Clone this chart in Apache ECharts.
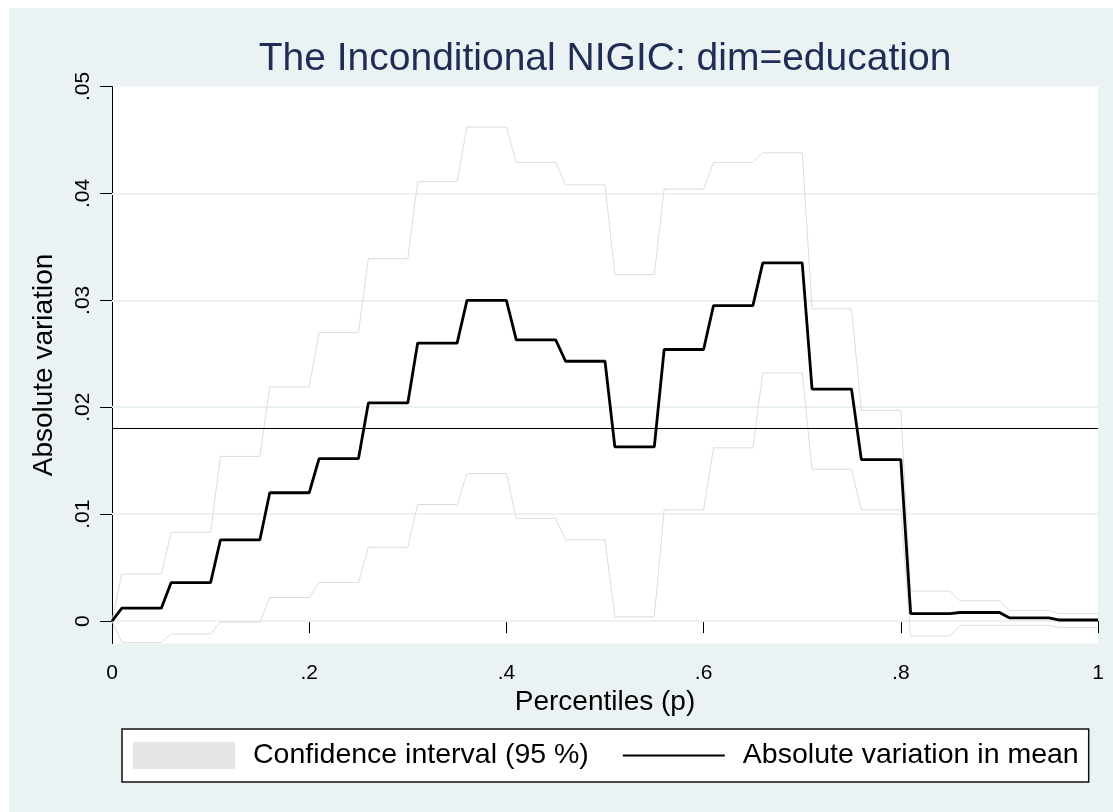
<!DOCTYPE html>
<html>
<head>
<meta charset="utf-8">
<title>The Inconditional NIGIC: dim=education</title>
<script src="https://cdn.jsdelivr.net/npm/echarts@6.0.0/dist/echarts.min.js"></script>
<style>
  html, body { margin: 0; padding: 0; background: #fff; }
  #chart { width: 1113px; height: 812px; }
</style>
</head>
<body>
<div id="chart"></div>
<script>
// percentiles where the step function changes
const pct = [0, 0.01, 0.05, 0.06, 0.10, 0.11, 0.15, 0.16, 0.20, 0.21, 0.25, 0.26, 0.30, 0.31, 0.35,
  0.36, 0.40, 0.41, 0.45, 0.46, 0.50, 0.51, 0.55, 0.56, 0.60, 0.61, 0.65, 0.66, 0.70, 0.71, 0.75,
  0.76, 0.80, 0.81, 0.85, 0.86, 0.90, 0.91, 0.95, 0.96, 1.00]

const meanVar = [0, 0.0012, 0.0012, 0.0036, 0.0036, 0.0076, 0.0076, 0.0120, 0.0120, 0.0152, 0.0152,
  0.0204, 0.0204, 0.0260, 0.0260, 0.0300, 0.0300, 0.0263, 0.0263, 0.0243, 0.0243, 0.0163, 0.0163,
  0.0254, 0.0254, 0.0295, 0.0295, 0.0335, 0.0335, 0.0217, 0.0217, 0.0151, 0.0151, 0.0007, 0.0007,
  0.0008, 0.0008, 0.0003, 0.0003, 0.0001, 0.0001]

const ciUpper = [0, 0.0044, 0.0044, 0.0083, 0.0083, 0.0154, 0.0154, 0.0219, 0.0219, 0.0270, 0.0270,
  0.0339, 0.0339, 0.0411, 0.0411, 0.0462, 0.0462, 0.0429, 0.0429, 0.0408, 0.0408, 0.0324, 0.0324,
  0.0404, 0.0404, 0.0429, 0.0429, 0.0438, 0.0438, 0.0292, 0.0292, 0.0197, 0.0197, 0.0028, 0.0028,
  0.0019, 0.0019, 0.0010, 0.0010, 0.0007, 0.0007]

const ciLower = [0, -0.0020, -0.0020, -0.0012, -0.0012, -0.0001, -0.0001, 0.0022, 0.0022, 0.0036, 0.0036,
  0.0069, 0.0069, 0.0109, 0.0109, 0.0138, 0.0138, 0.0096, 0.0096, 0.0076, 0.0076, 0.0004, 0.0004,
  0.0104, 0.0104, 0.0162, 0.0162, 0.0232, 0.0232, 0.0142, 0.0142, 0.0104, 0.0104, -0.0014, -0.0014,
  -0.0004, -0.0004, -0.0004, -0.0004, -0.0006, -0.0006]

const refLevel = 0.0180

const xTicks = [0, 0.2, 0.4, 0.6, 0.8, 1]
const xTickLabels = ['0', '.2', '.4', '.6', '.8', '1']
const yTicks = [0, 0.01, 0.02, 0.03, 0.04, 0.05]
const yTickLabels = ['0', '.01', '.02', '.03', '.04', '.05']
const gridTicks = [0, 0.01, 0.02, 0.03, 0.04]
const yMin = -0.0021
const yMax = 0.05

const FONT = "'Liberation Sans', Arial, Helvetica, sans-serif"
const BG = '#eaf2f3'

function pairs(vals) {
  return pct.map((p, i) => [p, vals[i]])
}
function tickLabel(ticks, labels) {
  return function (v) {
    const i = ticks.findIndex(t => Math.abs(t - v) < 1e-9)
    return i < 0 ? '' : labels[i]
  }
}

const chart = echarts.init(document.getElementById('chart'), null, { renderer: 'canvas' })

chart.setOption({
  backgroundColor: '#fff',
  animation: false,
  textStyle: { fontFamily: FONT },
  graphic: [{
    type: 'rect',
    z: -1,
    silent: true,
    shape: { x: 9, y: 8, width: 1104, height: 804 },
    style: { fill: BG }
  }],
  title: {
    text: 'The Inconditional NIGIC: dim=education',
    left: 605,
    top: 40,
    padding: 0,
    textAlign: 'center',
    textStyle: { fontFamily: FONT, fontSize: 39, fontWeight: 'normal', color: '#1f2d55' }
  },
  grid: {
    left: 112,
    right: 15,
    top: 86.5,
    bottom: 168.5,
    show: true,
    backgroundColor: '#fff',
    borderWidth: 0
  },
  legend: {
    left: 122,
    top: 729,
    orient: 'horizontal',
    backgroundColor: '#fff',
    borderColor: '#111',
    borderWidth: 1.5,
    padding: [12, 10, 12, 11],
    itemWidth: 102,
    itemHeight: 27,
    itemGap: 33,
    textStyle: { fontFamily: FONT, fontSize: 28.5, color: '#000', padding: [0, 0, 0, 13] },
    data: [
      { name: 'Confidence interval (95 %)', icon: 'rect', itemStyle: { color: '#e6e6e6', borderWidth: 0 } },
      {
        name: 'Absolute variation in mean',
        lineStyle: { color: '#000', width: 2 },
        itemStyle: { color: 'rgba(0,0,0,0)', borderColor: 'rgba(0,0,0,0)', borderWidth: 0, opacity: 0 }
      }
    ],
    selectedMode: false
  },
  xAxis: {
    type: 'value',
    min: 0,
    max: 1,
    interval: 0.2,
    name: 'Percentiles (p)',
    nameLocation: 'middle',
    nameGap: 42,
    nameTextStyle: { fontFamily: FONT, fontSize: 28, color: '#000' },
    axisLine: { show: true, lineStyle: { color: '#000', width: 1 } },
    axisTick: { show: true, length: 12, lineStyle: { color: '#000', width: 1 } },
    axisLabel: { margin: 19, fontSize: 21, color: '#000', fontFamily: FONT, formatter: tickLabel(xTicks, xTickLabels) },
    splitLine: { show: false }
  },
  yAxis: {
    type: 'value',
    min: yMin,
    max: yMax,
    name: 'Absolute variation',
    nameLocation: 'middle',
    nameGap: 54,
    nameTextStyle: { fontFamily: FONT, fontSize: 28, color: '#000' },
    axisLine: { show: true, lineStyle: { color: '#000', width: 1 } },
    axisTick: { show: true, length: 12, customValues: yTicks, lineStyle: { color: '#000', width: 1 } },
    axisLabel: {
      customValues: yTicks,
      rotate: 90,
      margin: 18,
      fontSize: 21,
      color: '#000',
      fontFamily: FONT,
      formatter: tickLabel(yTicks, yTickLabels)
    },
    splitLine: { show: false }
  },
  series: [
    {
      name: 'Confidence interval (95 %)',
      type: 'line',
      data: pairs(ciUpper),
      symbol: 'none',
      z: 2,
      itemStyle: { color: '#e6e6e6' },
      lineStyle: { color: '#dcdcdc', width: 1 },
      // light horizontal grid lines
      markLine: {
        silent: true,
        z: 1,
        precision: 6,
        symbol: ['none', 'none'],
        label: { show: false },
        lineStyle: { color: BG, width: 2, type: 'solid' },
        data: gridTicks.map(v => ({ yAxis: v }))
      }
    },
    {
      name: 'Confidence interval (95 %)',
      type: 'line',
      data: pairs(ciLower),
      symbol: 'none',
      z: 2,
      itemStyle: { color: '#e6e6e6' },
      lineStyle: { color: '#dcdcdc', width: 1 }
    },
    {
      name: 'Absolute variation in mean',
      type: 'line',
      data: pairs(meanVar),
      symbol: 'none',
      z: 4,
      itemStyle: { color: '#000' },
      lineStyle: { color: '#000', width: 2.8 },
      markLine: {
        silent: true,
        z: 3,
        precision: 6,
        symbol: ['none', 'none'],
        label: { show: false },
        lineStyle: { color: '#000', width: 1.2, type: 'solid' },
        data: [{ yAxis: refLevel }]
      }
    }
  ]
})
</script>
</body>
</html>
